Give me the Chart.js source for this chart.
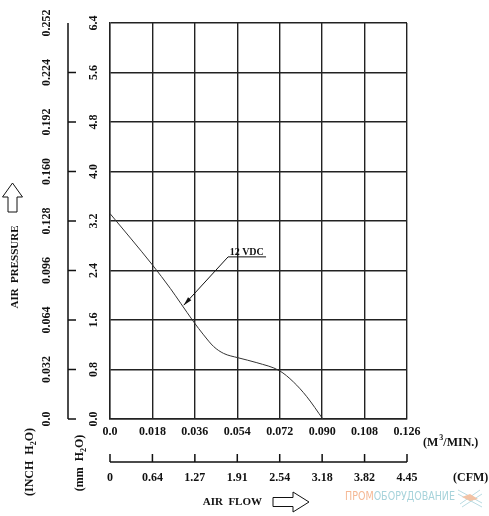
<!DOCTYPE html>
<html>
<head>
<meta charset="utf-8">
<script src="https://cdn.jsdelivr.net/npm/chart.js@4.4.0/dist/chart.umd.min.js"></script>
<style>
html, body { margin: 0; padding: 0; background: #fff; }
#wrap { width: 489px; height: 516px; }
</style>
</head>
<body>
<div id="wrap"><canvas id="fanChart" width="489" height="516"></canvas></div>
<script>
// axis ticks
var flowTicks = [0, 0.018, 0.036, 0.054, 0.072, 0.090, 0.108, 0.126];
var flowLabels = ['0.0', '0.018', '0.036', '0.054', '0.072', '0.090', '0.108', '0.126'];
var cfmLabels = ['0', '0.64', '1.27', '1.91', '2.54', '3.18', '3.82', '4.45'];
var mmTicks = [0, 0.8, 1.6, 2.4, 3.2, 4.0, 4.8, 5.6, 6.4];
var mmLabels = ['0.0', '0.8', '1.6', '2.4', '3.2', '4.0', '4.8', '5.6', '6.4'];
var inchLabels = ['0.0', '0.032', '0.064', '0.096', '0.128', '0.160', '0.192', '0.224', '0.252'];

// 12 VDC curve, flow in M3/MIN, pressure in mm H2O
var curveName = '12 VDC';
var curveFlow = [0, 0.009, 0.018, 0.0256, 0.030, 0.0355, 0.0397, 0.044, 0.0482, 0.0543, 0.0623, 0.0719, 0.0778, 0.0835, 0.0903];
var curvePressure = [3.32, 2.91, 2.49, 2.11, 1.87, 1.57, 1.36, 1.17, 1.06, 0.99, 0.91, 0.78, 0.60, 0.36, 0];

// where the "12 VDC" callout sits (data units)
var calloutText = [0.058, 2.65];
var calloutLine = [0.0501, 0.0662, 2.62];
var calloutTip = [0.0313, 1.84];

var FONT = '"Liberation Serif", "DejaVu Serif", serif';

function upArrow(ctx, cx, top) {
    ctx.beginPath();
    ctx.moveTo(cx, top);
    ctx.lineTo(cx + 10, top + 14);
    ctx.lineTo(cx + 4.5, top + 14);
    ctx.lineTo(cx + 4.5, top + 29);
    ctx.lineTo(cx - 4.5, top + 29);
    ctx.lineTo(cx - 4.5, top + 14);
    ctx.lineTo(cx - 10, top + 14);
    ctx.closePath();
    ctx.stroke();
}

function rightArrow(ctx, left, cy) {
    ctx.beginPath();
    ctx.moveTo(left, cy - 4.5);
    ctx.lineTo(left + 20, cy - 4.5);
    ctx.lineTo(left + 20, cy - 10);
    ctx.lineTo(left + 36, cy);
    ctx.lineTo(left + 20, cy + 10);
    ctx.lineTo(left + 20, cy + 4.5);
    ctx.lineTo(left, cy + 4.5);
    ctx.closePath();
    ctx.stroke();
}

// text rotated -90deg with a subscript "2"
function rotatedH2O(ctx, x, y, before, after) {
    ctx.save();
    ctx.translate(x, y);
    ctx.rotate(-Math.PI / 2);
    ctx.font = 'bold 12px ' + FONT;
    var w1 = ctx.measureText(before).width;
    ctx.font = 'bold 8px ' + FONT;
    var w2 = ctx.measureText('2').width;
    ctx.font = 'bold 12px ' + FONT;
    var w3 = ctx.measureText(after).width;
    var start = -(w1 + w2 + w3) / 2;
    ctx.textAlign = 'left';
    ctx.textBaseline = 'middle';
    ctx.fillText(before, start, 0);
    ctx.font = 'bold 8px ' + FONT;
    ctx.fillText('2', start + w1, 4);
    ctx.font = 'bold 12px ' + FONT;
    ctx.fillText(after, start + w1 + w2, 0);
    ctx.restore();
}

var fanDecor = {
    id: 'fanDecor',
    afterDraw: function(chart) {
        var ctx = chart.ctx;
        var xs = chart.scales.x;
        var ys = chart.scales.y;
        var x0 = xs.getPixelForValue(flowTicks[0]);
        var x7 = xs.getPixelForValue(flowTicks[flowTicks.length - 1]);
        var yB = ys.getPixelForValue(mmTicks[0]);
        var yT = ys.getPixelForValue(mmTicks[mmTicks.length - 1]);
        ctx.save();
        ctx.fillStyle = '#111';
        ctx.strokeStyle = '#111';

        // left pressure axis line with ticks
        ctx.lineWidth = 1.5;
        ctx.beginPath();
        ctx.moveTo(68, yT);
        ctx.lineTo(68, yB);
        for (var i = 0; i < mmTicks.length - 1; i++) {
            var ty = ys.getPixelForValue(mmTicks[i]);
            ctx.moveTo(68, ty);
            ctx.lineTo(76, ty);
        }
        ctx.stroke();

        // rotated tick labels, mm and inch
        ctx.font = 'bold 12px ' + FONT;
        ctx.textAlign = 'center';
        ctx.textBaseline = 'middle';
        for (var j = 0; j < mmTicks.length; j++) {
            var py = ys.getPixelForValue(mmTicks[j]);
            ctx.save();
            ctx.translate(94, py);
            ctx.rotate(-Math.PI / 2);
            ctx.fillText(mmLabels[j], 0, 0);
            ctx.restore();
            ctx.save();
            ctx.translate(47, py);
            ctx.rotate(-Math.PI / 2);
            ctx.fillText(inchLabels[j], 0, 0);
            ctx.restore();
        }

        // AIR PRESSURE title + arrow
        ctx.save();
        ctx.translate(15, 267);
        ctx.rotate(-Math.PI / 2);
        ctx.font = 'bold 11px ' + FONT;
        ctx.fillText('AIR  PRESSURE', 0, 0);
        ctx.restore();
        ctx.lineWidth = 1;
        upArrow(ctx, 12.5, 183);

        rotatedH2O(ctx, 30, 462, '(INCH  H', 'O)');
        rotatedH2O(ctx, 80, 463, '(mm  H', 'O)');

        // flow labels
        ctx.font = 'bold 12px ' + FONT;
        ctx.textAlign = 'center';
        for (var k = 0; k < flowTicks.length; k++) {
            var px = xs.getPixelForValue(flowTicks[k]);
            ctx.fillText(flowLabels[k], px, 432);
            ctx.fillText(cfmLabels[k], px, 478);
        }

        // CFM axis line
        ctx.lineWidth = 1.5;
        ctx.beginPath();
        ctx.moveTo(x0, 462);
        ctx.lineTo(x7, 462);
        for (var m = 0; m < flowTicks.length; m++) {
            var tx = xs.getPixelForValue(flowTicks[m]);
            ctx.moveTo(tx, 462);
            ctx.lineTo(tx, 454);
        }
        ctx.stroke();

        // unit captions
        ctx.textAlign = 'left';
        ctx.font = 'bold 12px ' + FONT;
        ctx.fillText('(M', 423, 443);
        var wM = ctx.measureText('(M').width;
        ctx.font = 'bold 8px ' + FONT;
        ctx.fillText('3', 423 + wM + 1, 438);
        var w3 = ctx.measureText('3').width;
        ctx.font = 'bold 12px ' + FONT;
        ctx.fillText('/MIN.)', 423 + wM + w3 + 1, 443);
        ctx.fillText('(CFM)', 453, 478);

        // AIR FLOW title + arrow
        ctx.font = 'bold 11px ' + FONT;
        ctx.textAlign = 'right';
        ctx.fillText('AIR  FLOW', 262, 502);
        ctx.lineWidth = 1;
        rightArrow(ctx, 273, 502);

        // 12 VDC callout
        var lx1 = xs.getPixelForValue(calloutLine[0]);
        var lx2 = xs.getPixelForValue(calloutLine[1]);
        var ly = ys.getPixelForValue(calloutLine[2]);
        var tipX = xs.getPixelForValue(calloutTip[0]);
        var tipY = ys.getPixelForValue(calloutTip[1]);
        ctx.font = 'bold 10px ' + FONT;
        ctx.textAlign = 'center';
        ctx.textBaseline = 'alphabetic';
        ctx.fillText(curveName, xs.getPixelForValue(calloutText[0]), ys.getPixelForValue(calloutText[1]));
        ctx.lineWidth = 1;
        ctx.beginPath();
        ctx.moveTo(lx2, ly);
        ctx.lineTo(lx1, ly);
        ctx.lineTo(tipX, tipY);
        ctx.stroke();
        var ang = Math.atan2(tipY - ly, tipX - lx1);
        ctx.beginPath();
        ctx.moveTo(tipX, tipY);
        ctx.lineTo(tipX - 9 * Math.cos(ang - 0.25), tipY - 9 * Math.sin(ang - 0.25));
        ctx.lineTo(tipX - 9 * Math.cos(ang + 0.25), tipY - 9 * Math.sin(ang + 0.25));
        ctx.closePath();
        ctx.fill();

        // watermark
        ctx.textBaseline = 'middle';
        ctx.textAlign = 'left';
        ctx.font = '12px "Liberation Sans Narrow", "DejaVu Sans Condensed", sans-serif';
        var wa = ctx.measureText('ПРОМ').width;
        var wb = ctx.measureText('ОБОРУДОВАНИЕ').width;
        var sc = 110 / (wa + wb);
        ctx.save();
        ctx.translate(345, 497);
        ctx.scale(sc, 1);
        ctx.fillStyle = '#f5b894';
        ctx.fillText('ПРОМ', 0, 0);
        ctx.fillStyle = '#a7d3db';
        ctx.fillText('ОБОРУДОВАНИЕ', wa, 0);
        ctx.restore();
        ctx.lineWidth = 1;
        ctx.strokeStyle = '#b9dbe2';
        ctx.beginPath();
        ctx.moveTo(458, 490); ctx.lineTo(482, 503);
        ctx.moveTo(458, 494); ctx.lineTo(482, 507);
        ctx.moveTo(460, 504); ctx.lineTo(480, 490);
        ctx.moveTo(462, 507); ctx.lineTo(482, 494);
        ctx.stroke();
        ctx.fillStyle = '#f2c3a6';
        ctx.beginPath();
        ctx.moveTo(462, 497); ctx.lineTo(470, 494); ctx.lineTo(478, 499); ctx.lineTo(470, 501);
        ctx.closePath();
        ctx.fill();

        ctx.restore();
    }
};

var points = curveFlow.map(function(v, i) {
    return { x: v, y: curvePressure[i] };
});

new Chart(document.getElementById('fanChart'), {
    type: 'scatter',
    data: {
        datasets: [{
            label: curveName,
            data: points,
            showLine: true,
            borderColor: '#333',
            borderWidth: 1,
            pointRadius: 0,
            cubicInterpolationMode: 'monotone',
            fill: false
        }]
    },
    options: {
        responsive: false,
        animation: false,
        devicePixelRatio: 1,
        layout: { padding: { left: 110, right: 82, top: 23, bottom: 97 } },
        plugins: {
            legend: { display: false },
            tooltip: { enabled: false }
        },
        scales: {
            x: {
                type: 'linear',
                min: 0,
                max: 0.126,
                afterBuildTicks: function(axis) {
                    axis.ticks = flowTicks.map(function(v) { return { value: v }; });
                },
                ticks: { display: false },
                grid: { color: '#222', lineWidth: 1.4, drawTicks: false },
                border: { color: '#222', width: 1.4 }
            },
            y: {
                type: 'linear',
                min: 0,
                max: 6.4,
                afterBuildTicks: function(axis) {
                    axis.ticks = mmTicks.map(function(v) { return { value: v }; });
                },
                ticks: { display: false },
                grid: { color: '#222', lineWidth: 1.4, drawTicks: false },
                border: { color: '#222', width: 1.4 }
            }
        }
    },
    plugins: [fanDecor]
});
</script>
</body>
</html>
